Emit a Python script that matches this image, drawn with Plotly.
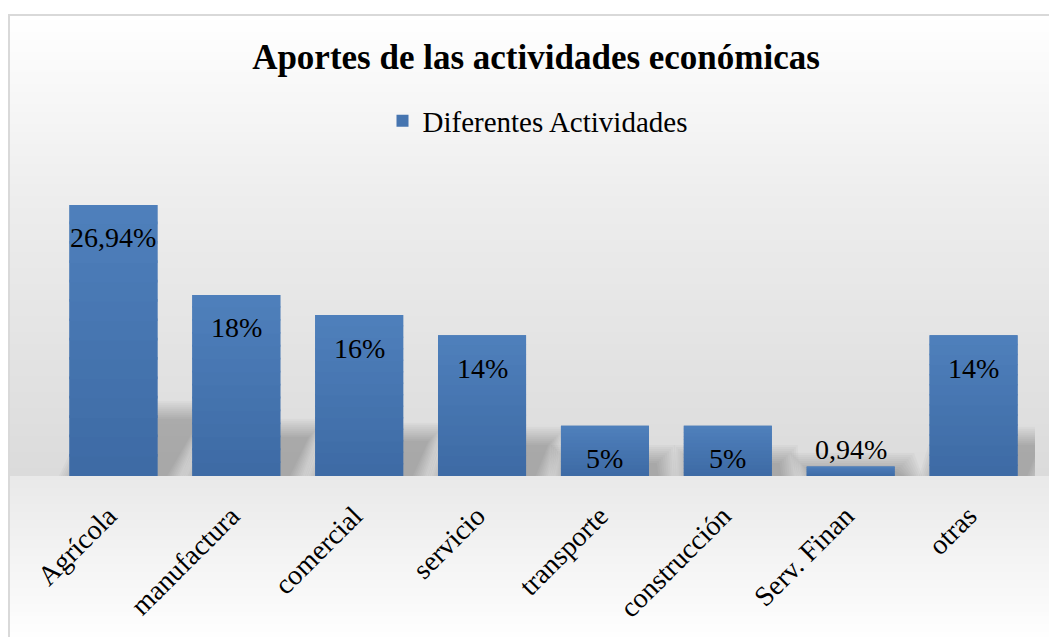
import plotly.graph_objects as go

# ---- data ----
categories = ["Agrícola", "manufactura", "comercial", "servicio",
              "transporte", "construcción", "Serv. Finan", "otras"]
values = [26.94, 18, 16, 14, 5, 5, 0.94, 14]
labels = ["26,94%", "18%", "16%", "14%", "5%", "5%", "0,94%", "14%"]
series_name = "Diferentes Actividades"
title_text = "Aportes de las actividades económicas"

W, H = 1049, 637
ML, MR, MT, MB = 52, 14, 150, 161
plot_h = H - MT - MB
plot_w = W - ML - MR
YMAX = 32.4
px_per_unit = plot_h / YMAX
px_per_cat = plot_w / len(categories)
bar_frac = 0.716

def px_to_paper_x(px):
    return (px - ML) / plot_w

def px_to_paper_y(py):
    return (H - MB - py) / plot_h

shapes = []

# background gradient (chart area) built from thin strips
stops = [(16, 255), (200, 237), (476, 219), (477, 233), (637, 254)]
def grey_at(py):
    for (y0, c0), (y1, c1) in zip(stops[:-1], stops[1:]):
        if y0 <= py <= y1:
            if y1 == y0:
                return c1
            return c0 + (c1 - c0) * (py - y0) / (y1 - y0)
    return stops[-1][1]

step = 4
y = 16
while y < H:
    y2 = min(y + step, H + 2)
    g = int(round(grey_at(y + step / 2)))
    shapes.append(dict(type="rect", xref="paper", yref="paper", layer="below",
                       x0=px_to_paper_x(9), x1=px_to_paper_x(W + 5),
                       y0=px_to_paper_y(y2 + 0.5), y1=px_to_paper_y(y),
                       line=dict(width=0), fillcolor=f"rgb({g},{g},{g})"))
    y = y2

# frame border
shapes.append(dict(type="rect", xref="paper", yref="paper", layer="below",
                   x0=px_to_paper_x(9), x1=px_to_paper_x(W + 10),
                   y0=px_to_paper_y(H + 10), y1=px_to_paper_y(15),
                   line=dict(color="#d9d9d9", width=2), fillcolor="rgba(0,0,0,0)"))

# soft perspective shadows behind bars (derived from the values)
half = bar_frac / 2
NL = 10
for i, v in enumerate(values):
    hs = 0.2 * v + 0.3
    dx = 0.013 * v
    for k in range(NL):
        sp = (NL - 1 - k) * 2.0
        ex = sp / px_per_cat
        ey = sp / px_per_unit
        path = (f"M {i - half + 0.06 - ex},0 L {i + half + 0.08 + ex},0 "
                f"L {i + half + dx + ex},{max(hs + ey, 0)} "
                f"L {i - half + dx - ex},{max(hs + ey, 0)} Z")
        shapes.append(dict(type="path", xref="x", yref="y", layer="below",
                           path=path, line=dict(width=0),
                           fillcolor="rgba(0,0,0,0.024)"))

# vertical gradient sheen on each bar (light top -> darker bottom)
top_c = (79, 128, 188)
bot_c = (61, 106, 164)
NS = 14
for i, v in enumerate(values):
    for k in range(NS):
        f0 = k / NS
        f1 = (k + 1) / NS
        t = (k + 0.5) / NS
        col = tuple(int(round(b + (a - b) * t)) for a, b in zip(top_c, bot_c))
        shapes.append(dict(type="rect", xref="x", yref="y", layer="above",
                           x0=i - half, x1=i + half,
                           y0=v * f0, y1=v * f1 + (0.0 if k == NS - 1 else v * 0.01),
                           line=dict(width=0), fillcolor=f"rgb{col}"))

fig = go.Figure()
fig.add_trace(go.Bar(
    x=categories, y=values, name=series_name,
    marker=dict(color="#4675b0", line=dict(width=0)),
    showlegend=True, hoverinfo="skip"))

annotations = []
for c, v, t in zip(categories, values, labels):
    annotations.append(dict(x=c, y=v, xref="x", yref="y", text=t,
                            showarrow=False, yanchor="middle",
                            yshift=-33 if v > 3 else 17,
                            font=dict(family="Liberation Serif", size=28, color="#000000")))

fig.update_layout(
    width=W, height=H,
    margin=dict(l=ML, r=MR, t=MT, b=MB, autoexpand=False),
    paper_bgcolor="#ffffff",
    plot_bgcolor="rgba(0,0,0,0)",
    title=dict(text=f"<b>{title_text}</b>", x=536 / W, xanchor="center",
               y=1 - 57 / H, yanchor="middle",
               font=dict(family="Liberation Serif", size=35, color="#000000")),
    legend=dict(orientation="h", x=0.5 - 6 / plot_w, xanchor="center",
                y=px_to_paper_y(121), yanchor="middle",
                font=dict(family="Liberation Serif", size=29, color="#000000"),
                bgcolor="rgba(0,0,0,0)", itemwidth=30),
    bargap=1 - bar_frac,
    shapes=shapes,
    annotations=annotations,
    xaxis=dict(type="category", range=[-0.5, len(categories) - 0.5],
               tickangle=-45, showgrid=False, zeroline=False,
               showline=False, ticks="", automargin=False,
               ticklabelstandoff=17, ticklabelshift=-5,
               tickfont=dict(family="Liberation Serif", size=28, color="#000000")),
    yaxis=dict(range=[0, YMAX], visible=False, showgrid=False, zeroline=False,
               automargin=False),
)

fig.write_html("out.html", config={"displayModeBar": False},
               post_script="document.body.style.margin='0';document.body.style.overflow='hidden';")
